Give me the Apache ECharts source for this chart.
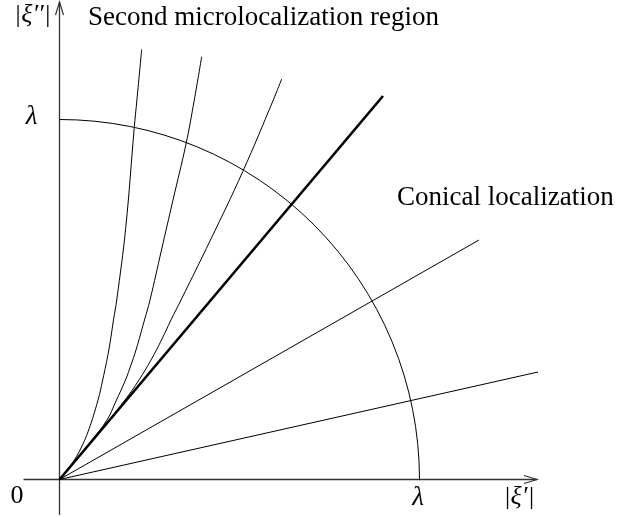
<!DOCTYPE html>
<html>
<head>
<meta charset="utf-8">
<script src="https://cdn.jsdelivr.net/npm/echarts@6/dist/echarts.min.js"></script>
<style>
html,body{margin:0;padding:0;background:#fff;}
#chart{width:622px;height:517px;}
</style>
</head>
<body>
<div id="chart"></div>
<script>
// ---- data (units of lambda) ----
const xRange = [-0.1, 1.3264];
const yRange = [-0.1, 1.3264];
const lambdaRadius = [1];
const xAxisSeg = [[-0.1, 0], [1.3264, 0]];
const yAxisSeg = [[0, -0.0986], [0, 1.3264]];
const rayThick = [[0, 0], [0.8986, 1.0653]];
const rayMid = [[0, 0], [1.1653, 0.6653]];
const rayLow = [[0, 0], [1.3292, 0.2986]];
const curve1 = [[0,0],[0.0355,0.0458],[0.057,0.0819],[0.081,0.1375],[0.107,0.2208],[0.12,0.2764],[0.137,0.3597],[0.15,0.4431],[0.159,0.4986],[0.184,0.6996],[0.2075,0.9756],[0.215,1.0542],[0.2283,1.195]];
const curve2 = [[0,0],[0.0458,0.0542],[0.0903,0.1097],[0.1319,0.1653],[0.1583,0.2208],[0.1833,0.2764],[0.1986,0.3181],[0.2125,0.3597],[0.2361,0.4431],[0.2514,0.4986],[0.2833,0.6375],[0.3153,0.7764],[0.3514,0.9319],[0.3744,1.0542],[0.395,1.1744]];
const curve3 = [[0,0],[0.0622,0.0736],[0.1089,0.1292],[0.1819,0.2208],[0.2208,0.2764],[0.2542,0.3319],[0.2833,0.3875],[0.3097,0.4431],[0.3375,0.4986],[0.4194,0.6653],[0.5089,0.855],[0.5939,1.0542],[0.6172,1.1125]];
const labels = {
  yName: '|\u03BE\u2032\u2032|',
  xName: '|\u03BE\u2032|',
  lambda: '\u03BB',
  zero: '0',
  region2: 'Second microlocalization region',
  conical: 'Conical localization'
};

const chart = echarts.init(document.getElementById('chart'), null, {renderer: 'canvas'});
const black = '#000';
const serif = '"Liberation Serif", "DejaVu Serif", serif';

function lineSeries(data, width, color) {
  return {
    type: 'line', data: data, showSymbol: false, symbol: 'none',
    lineStyle: {color: color || black, width: width}, silent: true, z: 3
  };
}
function smoothSeries(data) {
  return {
    type: 'line', data: data, showSymbol: false, symbol: 'none', smooth: 0.4,
    lineStyle: {color: black, width: 1}, silent: true, z: 3
  };
}

const option = {
  animation: false,
  backgroundColor: '#fff',
  grid: {left: 23.5, right: 85, top: 2, bottom: 1.5, containLabel: false},
  xAxis: {type: 'value', min: xRange[0], max: xRange[1], show: false},
  yAxis: {type: 'value', min: yRange[0], max: yRange[1], show: false},
  series: [
    lineSeries(xAxisSeg, 1.3, '#333'),
    lineSeries(yAxisSeg, 1.3, '#333'),
    {
      type: 'custom', silent: true, z: 4,
      data: [[xAxisSeg[1][0], xAxisSeg[1][1], 0], [yAxisSeg[1][0], yAxisSeg[1][1], 1]],
      renderItem: function (params, api) {
        const p = api.coord([api.value(0), api.value(1)]);
        const horiz = api.value(2) === 0;
        const L = 13, W = 4;
        let pts;
        if (horiz) {
          pts = [[p[0] - L, p[1] - W], [p[0], p[1]], [p[0] - L, p[1] + W]];
        } else {
          pts = [[p[0] - W, p[1] + L], [p[0], p[1]], [p[0] + W, p[1] + L]];
        }
        return {type: 'polyline', shape: {points: pts}, style: {stroke: '#333', lineWidth: 1.2, fill: null}};
      }
    },
    {
      type: 'custom', silent: true, z: 3,
      data: lambdaRadius.map(r => [0, 0, r]),
      renderItem: function (params, api) {
        const c = api.coord([0, 0]);
        const e = api.coord([api.value(2), 0]);
        const r = e[0] - c[0];
        return {
          type: 'arc',
          shape: {cx: c[0], cy: c[1], r: r, startAngle: -Math.PI / 2, endAngle: 0, clockwise: true},
          style: {stroke: black, lineWidth: 1, fill: null}
        };
      }
    },
    lineSeries(rayThick, 2.6),
    lineSeries(rayMid, 1),
    lineSeries(rayLow, 1),
    smoothSeries(curve1),
    smoothSeries(curve2),
    smoothSeries(curve3)
  ],
  graphic: [
    {type: 'text', style: {text: labels.yName, x: 32.5, y: 15, font: 'italic 26px ' + serif, fill: black, align: 'center', verticalAlign: 'middle'}},
    {type: 'text', style: {text: labels.lambda, x: 31.5, y: 117, font: 'italic 27px ' + serif, fill: black, align: 'center', verticalAlign: 'middle'}},
    {type: 'text', style: {text: labels.zero, x: 17, y: 496, font: '26px ' + serif, fill: black, align: 'center', verticalAlign: 'middle'}},
    {type: 'text', style: {text: labels.lambda, x: 418, y: 498, font: 'italic 27px ' + serif, fill: black, align: 'center', verticalAlign: 'middle'}},
    {type: 'text', style: {text: labels.xName, x: 519, y: 497, font: 'italic 26px ' + serif, fill: black, align: 'center', verticalAlign: 'middle'}},
    {type: 'text', style: {text: labels.region2, x: 88, y: 18, font: '27px ' + serif, fill: black, align: 'left', verticalAlign: 'middle'}},
    {type: 'text', style: {text: labels.conical, x: 397, y: 198, font: '27px ' + serif, fill: black, align: 'left', verticalAlign: 'middle'}}
  ]
};
chart.setOption(option);
</script>
</body>
</html>
